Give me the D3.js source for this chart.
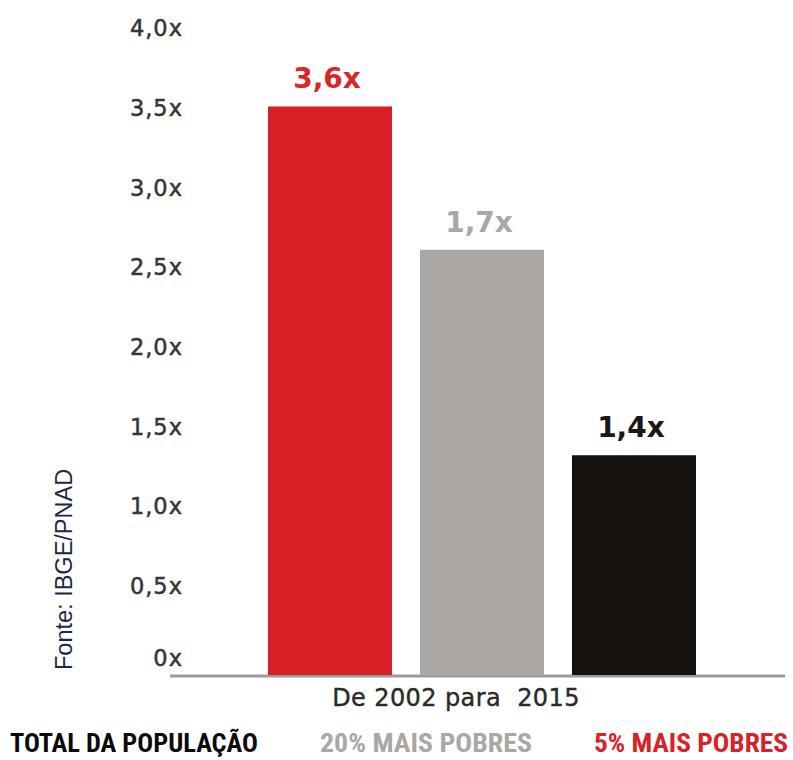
<!DOCTYPE html>
<html><head><meta charset="utf-8">
<script src="https://cdn.jsdelivr.net/npm/d3@7"></script>
<style>body{margin:0;background:#fff}svg{display:block}</style>
</head><body>
<svg id="c" width="793" height="760"></svg>
<script>
const categories = ["5% MAIS POBRES", "20% MAIS POBRES", "TOTAL DA POPULAÇÃO"];
const barValues = [3.57, 2.67, 1.38];
const barLabels = ["3,6x", "1,7x", "1,4x"];
const tickValues = [0, 0.5, 1.0, 1.5, 2.0, 2.5, 3.0, 3.5, 4.0];
const tickLabels = ["0x", "0,5x", "1,0x", "1,5x", "2,0x", "2,5x", "3,0x", "3,5x", "4,0x"];
const periodLabel = "De 2002 para  2015";
const sourceLabel = "Fonte: IBGE/PNAD";
const legendOrder = ["TOTAL DA POPULAÇÃO", "20% MAIS POBRES", "5% MAIS POBRES"];

const barColors = {"5% MAIS POBRES":"#d71f25","20% MAIS POBRES":"#aaa7a5","TOTAL DA POPULAÇÃO":"#15110e"};
const labelColors = {"5% MAIS POBRES":"#d4292b","20% MAIS POBRES":"#aaa8a6","TOTAL DA POPULAÇÃO":"#1a1715"};
const legendColors = {"5% MAIS POBRES":"#d92128","20% MAIS POBRES":"#aaa7a5","TOTAL DA POPULAÇÃO":"#0a0a0a"};

const svg = d3.select("#c");
const y = d3.scaleLinear().domain([0, 4]).range([675, 38]);
const x = d3.scaleBand().domain(categories).range([268, 696]).paddingInner(0.184).paddingOuter(0);

// y axis labels
const yAxis = d3.axisLeft(y).tickValues(tickValues).tickSize(0).tickPadding(0)
  .tickFormat((d, i) => tickLabels[i]);
const ya = svg.append("g").attr("transform", "translate(183,0)").call(yAxis);
ya.select(".domain").remove();
ya.selectAll("text")
  .attr("font-family", "DejaVu Sans, sans-serif")
  .attr("font-size", 22.5)
  .attr("letter-spacing", 1)
  .attr("fill", "#353535")
  .attr("stroke", "#353535")
  .attr("stroke-width", 0.5)
  .attr("dy", "0.35em")
  .attr("transform", d => d === 0 ? "translate(0,-17)" : "translate(0,-10)");

// baseline
svg.append("line").attr("x1", 170).attr("x2", 785)
  .attr("y1", y(0) + 1).attr("y2", y(0) + 1)
  .attr("stroke", "#9a9a9a").attr("stroke-width", 3);

// bars
svg.append("g").selectAll("rect").data(categories).join("rect")
  .attr("x", d => x(d))
  .attr("width", x.bandwidth())
  .attr("y", (d, i) => y(barValues[i]))
  .attr("height", (d, i) => y(0) - y(barValues[i]))
  .attr("fill", d => barColors[d]);

// value labels
svg.append("g").selectAll("text").data(categories).join("text")
  .attr("x", d => x(d) + x.bandwidth() / 2 - 3)
  .attr("y", (d, i) => y(barValues[i]) - 18)
  .attr("text-anchor", "middle")
  .attr("font-family", "DejaVu Sans, sans-serif")
  .attr("font-weight", "bold")
  .attr("font-size", 28)
  .attr("fill", d => labelColors[d])
  .text((d, i) => barLabels[i]);

// period label
svg.append("text")
  .attr("x", 456).attr("y", 706)
  .attr("text-anchor", "middle")
  .attr("font-family", "DejaVu Sans, sans-serif")
  .attr("font-size", 24)
  .attr("letter-spacing", 0.4)
  .attr("fill", "#2a2a2a")
  .attr("stroke", "#2a2a2a")
  .attr("stroke-width", 0.4)
  .style("white-space", "pre")
  .attr("xml:space", "preserve")
  .text(periodLabel);

// source label
svg.append("text")
  .attr("transform", "translate(72,670) rotate(-90)")
  .attr("font-family", "Liberation Sans, Arial, sans-serif")
  .attr("font-size", 23.5)
  .attr("fill", "#1f2745")
  .text(sourceLabel);

// legend
const legendX = {"TOTAL DA POPULAÇÃO":[10, 248], "20% MAIS POBRES":[320, 212], "5% MAIS POBRES":[594, 194]};
svg.append("g").selectAll("text").data(legendOrder).join("text")
  .attr("x", d => legendX[d][0])
  .attr("y", 752)
  .attr("textLength", d => legendX[d][1])
  .attr("lengthAdjust", "spacingAndGlyphs")
  .attr("font-family", "Liberation Sans Narrow, Roboto Condensed, Liberation Sans, sans-serif")
  .attr("font-weight", "bold")
  .attr("font-size", 26)
  .attr("fill", d => legendColors[d])
  .text(d => d);
</script>
</body></html>
